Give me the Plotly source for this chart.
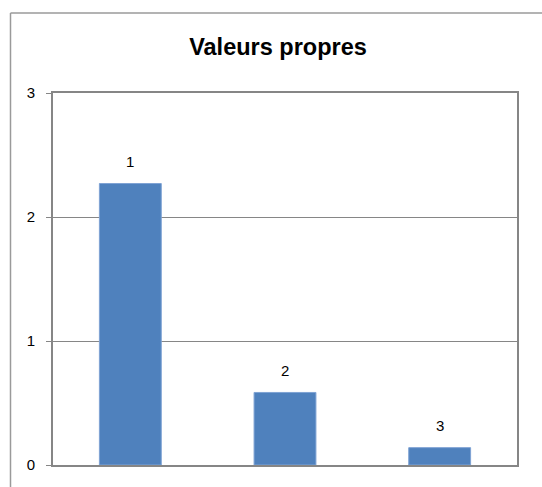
import plotly.graph_objects as go

# Eigenvalues of the principal components
components = ["1", "2", "3"]
eigenvalues = [2.27, 0.585, 0.14]
y_ticks = [0, 1, 2, 3]

W, H = 542, 487
ML, MR, MT, MB = 53, 25, 93, 22
pw, ph = W - ML - MR, H - MT - MB

fig = go.Figure()
fig.add_trace(go.Bar(
    x=components,
    y=eigenvalues,
    marker=dict(color="#4F81BD", line=dict(color="#7FA3D4", width=1)),
    hoverinfo="x+y",
))

# Component labels above each bar (category axis: position by index)
for i, (c, v) in enumerate(zip(components, eigenvalues)):
    fig.add_annotation(
        x=i, y=v, text=c, showarrow=False, yshift=22,
        font=dict(family="Liberation Sans, Arial", size=15, color="#000000"),
    )

# Chart-area frame (top and left edges)
fx0 = (10.5 - ML) / pw
fy1 = (H - MB - 13) / ph
fig.add_shape(type="line", xref="paper", yref="paper",
              x0=fx0, x1=1 + 60 / pw, y0=fy1, y1=fy1,
              line=dict(color="#9A9A9A", width=1.5))
fig.add_shape(type="line", xref="paper", yref="paper",
              x0=fx0, x1=fx0, y0=fy1, y1=-0.2,
              line=dict(color="#9A9A9A", width=1.5))

fig.update_layout(
    width=W, height=H,
    margin=dict(l=ML, r=MR, t=MT, b=MB),
    paper_bgcolor="white", plot_bgcolor="white",
    showlegend=False,
    bargap=0.6,
    title=dict(
        text="<b>Valeurs propres</b>",
        x=278 / W, xanchor="center",
        y=1 - 47 / H, yanchor="middle",
        font=dict(family="Liberation Sans, Arial", size=23.5, color="#000000"),
    ),
    xaxis=dict(
        type="category",
        range=[-0.5, len(components) - 0.5],
        showticklabels=False, ticks="",
        showgrid=False, zeroline=False,
        showline=True, linecolor="#868686", linewidth=2, mirror=True,
    ),
    yaxis=dict(
        range=[0, 3], tickvals=y_ticks,
        ticks="outside", ticklen=5, tickcolor="#868686", tickwidth=1,
        ticklabelstandoff=8,
        tickfont=dict(family="Liberation Sans, Arial", size=15, color="#000000"),
        showgrid=True, gridcolor="#868686", gridwidth=1,
        zeroline=False,
        showline=True, linecolor="#868686", linewidth=2, mirror=True,
    ),
)

fig.write_html("out.html")
